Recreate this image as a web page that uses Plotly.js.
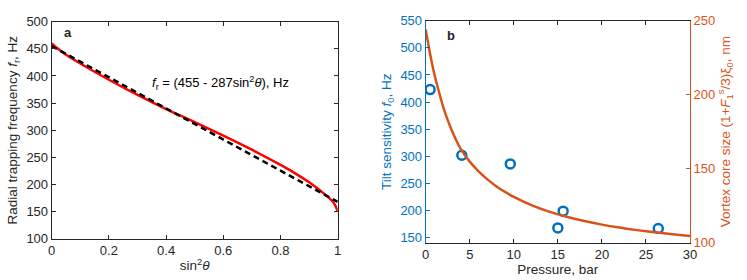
<!DOCTYPE html>
<html>
<head>
<meta charset="utf-8">
<script src="https://cdn.plot.ly/plotly-3.0.1.min.js"></script>
<style>html,body{margin:0;padding:0;background:#fff;}#chart{width:747px;height:280px;}</style>
</head>
<body>
<div id="chart"></div>
<script>
// Panel a: radial trapping frequency vs sin^2(theta)
const sin2Theta = [0, 0.02, 0.05, 0.1, 0.2, 0.3, 0.4, 0.5, 0.6, 0.7, 0.8, 0.85, 0.9, 0.95, 0.98, 0.99, 1.0];
const fRadial   = [460, 451, 439, 423, 393, 365, 339, 315, 290, 264, 236, 221, 204, 184, 170, 163, 151];
const fitX = [0, 1];
const fitY = [455, 168];

// Panel b: tilt sensitivity points and vortex core size curve
const pressurePts = [0.5, 4.1, 9.6, 15.0, 15.6, 26.4];
const tiltF0      = [423, 302, 286, 168, 199, 167];
const pressureCurve = [0, 0.5, 1, 1.5, 2, 2.5, 3, 3.5, 4, 5, 6, 7, 8, 9, 10, 12, 14, 16, 18, 20, 22, 24, 26, 28, 30];
const coreSize      = [244, 227.5, 213.5, 202, 191.5, 182.8, 175.3, 168.8, 163, 154.8, 148.2, 142.8, 138.2, 134.3, 131, 125.4, 121.0, 117.5, 114.6, 112.2, 110.2, 108.5, 107.0, 105.7, 104.5];

const xTicksA = [0, 0.2, 0.4, 0.6, 0.8, 1];
const yTicksA = [100, 150, 200, 250, 300, 350, 400, 450, 500];
const xTicksB = [0, 5, 10, 15, 20, 25, 30];
const yTicksBLeft = [150, 200, 250, 300, 350, 400, 450, 500, 550];
const yTicksBRight = [100, 150, 200, 250];

const DARK = '#262626', BLUE = '#0072BD', ORANGE = '#D95319';
const FONT = 'Liberation Sans, Arial, sans-serif';
const TICK = 13, TITLE = 13.5;

const traces = [
  {x: sin2Theta, y: fRadial, type: 'scatter', mode: 'lines', xaxis: 'x', yaxis: 'y',
   line: {color: '#FF0000', width: 2.5, shape: 'spline', smoothing: 0.6}, hoverinfo: 'skip'},
  {x: fitX, y: fitY, type: 'scatter', mode: 'lines', xaxis: 'x', yaxis: 'y',
   line: {color: '#000000', width: 2.5, dash: '6px,4px'}, hoverinfo: 'skip'},
  {x: pressureCurve, y: coreSize, type: 'scatter', mode: 'lines', xaxis: 'x2', yaxis: 'y3',
   line: {color: ORANGE, width: 2.5, shape: 'spline', smoothing: 0.6}, hoverinfo: 'skip'},
  {x: pressurePts, y: tiltF0, type: 'scatter', mode: 'markers', xaxis: 'x2', yaxis: 'y2',
   marker: {symbol: 'circle-open', size: 9, color: BLUE, line: {width: 2.5, color: BLUE}}, hoverinfo: 'skip'}
];

const axBase = {showgrid: false, zeroline: false, showline: true, linewidth: 1,
  ticks: 'inside', ticklen: 4, tickwidth: 1};

const layout = {
  width: 747, height: 280,
  margin: {l: 0, r: 0, t: 0, b: 0},
  paper_bgcolor: '#fff', plot_bgcolor: '#fff',
  showlegend: false,
  font: {family: FONT, size: TICK, color: DARK},
  xaxis: Object.assign({}, axBase, {domain: [51.7/747, 337.7/747], anchor: 'y', range: [0, 1],
    tickvals: xTicksA, ticktext: xTicksA.map(String), linecolor: DARK, tickcolor: DARK, mirror: 'ticks',
    tickfont: {family: FONT, size: TICK, color: DARK},
    title: {text: 'sin<sup>2</sup><i>θ</i>', font: {family: FONT, size: TITLE, color: DARK}, standoff: 3}}),
  yaxis: Object.assign({}, axBase, {domain: [1 - 238.7/280, 1 - 21.7/280], anchor: 'x', range: [100, 500],
    tickvals: yTicksA, linecolor: DARK, tickcolor: DARK, mirror: 'ticks',
    tickfont: {family: FONT, size: TICK, color: DARK},
    title: {text: 'Radial trapping frequency <i>f</i><sub>r</sub>, Hz', font: {family: FONT, size: TITLE, color: DARK}, standoff: 5}}),
  xaxis2: Object.assign({}, axBase, {domain: [425.7/747, 690/747], anchor: 'y2', range: [0, 30],
    tickvals: xTicksB, linecolor: DARK, tickcolor: DARK, mirror: 'ticks',
    tickfont: {family: FONT, size: TICK, color: DARK},
    title: {text: 'Pressure, bar', font: {family: FONT, size: TITLE, color: DARK}, standoff: 3}}),
  yaxis2: Object.assign({}, axBase, {domain: [1 - 242.7/280, 1 - 20.7/280], anchor: 'x2', range: [140.8, 550],
    tickvals: yTicksBLeft, linecolor: BLUE, tickcolor: BLUE,
    tickfont: {family: FONT, size: TICK, color: BLUE},
    title: {text: 'Tilt sensitivity <i>f</i><sub>0</sub>, Hz', font: {family: FONT, size: TITLE, color: BLUE}, standoff: 5}}),
  yaxis3: Object.assign({}, axBase, {overlaying: 'y2', side: 'right', anchor: 'x2', range: [100, 250],
    tickvals: yTicksBRight, linecolor: ORANGE, tickcolor: ORANGE,
    tickfont: {family: FONT, size: TICK, color: ORANGE},
    title: {text: 'Vortex core size (1+<i>F</i><sub>1</sub><sup>s</sup>/3)ξ<sub>0</sub>, nm', font: {family: FONT, size: TITLE, color: ORANGE}, standoff: 5}}),
  annotations: [
    {xref: 'x', yref: 'y', x: 0.035, y: 480, text: '<b>a</b>', showarrow: false, xanchor: 'left', yanchor: 'middle',
     font: {family: FONT, size: 13, color: DARK}},
    {xref: 'x2', yref: 'y2', x: 2.2, y: 523, text: '<b>b</b>', showarrow: false, xanchor: 'left', yanchor: 'middle',
     font: {family: FONT, size: 13, color: DARK}},
    {xref: 'x', yref: 'y', x: 0.345, y: 387, text: '<i>f</i><sub>r</sub> = (455 - 287sin<sup>2</sup><i>θ</i>), Hz',
     showarrow: false, xanchor: 'left', yanchor: 'middle', font: {family: FONT, size: 13, color: '#000'}}
  ]
};

Plotly.newPlot('chart', traces, layout, {staticPlot: true, displayModeBar: false});
</script>
</body>
</html>
